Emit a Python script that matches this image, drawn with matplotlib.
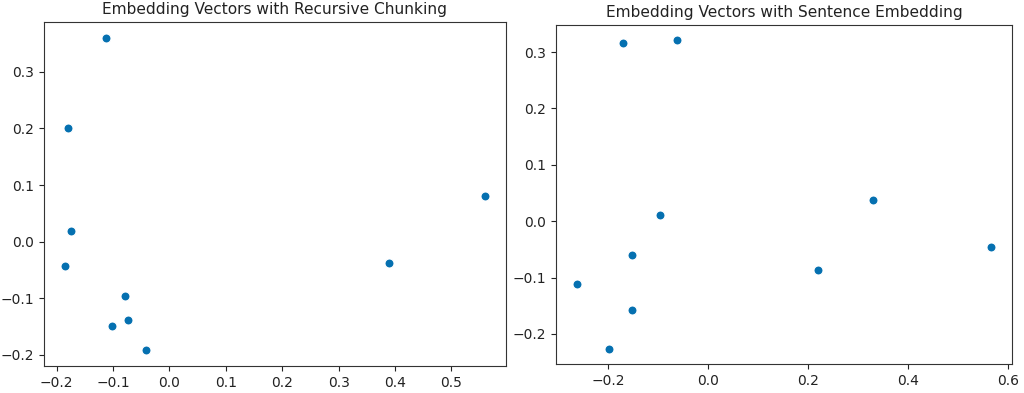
import matplotlib
matplotlib.use("Agg")
import matplotlib.pyplot as plt

# Recursive chunking embedding (2D projection)
rc_x = [-0.1126, -0.1805, -0.1740, -0.1852, -0.0795, -0.0730, -0.1025, -0.0417, 0.3895, 0.5596]
rc_y = [0.3606, 0.2012, 0.0182, -0.0441, -0.0970, -0.1380, -0.1494, -0.1924, -0.0376, 0.0806]

# Sentence embedding (2D projection)
se_x = [-0.1713, -0.0631, -0.0958, -0.1533, -0.2634, -0.1533, -0.1993, 0.2200, 0.3289, 0.5666]
se_y = [0.3160, 0.3207, 0.0102, -0.0601, -0.1109, -0.1575, -0.2260, -0.0860, 0.0373, -0.0453]

titles = ["Embedding Vectors with Recursive Chunking", "Embedding Vectors with Sentence Embedding"]

color = "#0570b0"

fig = plt.figure(figsize=(10.24, 3.93), dpi=100)
ax1 = fig.add_axes([44/1024, 1-366/393, 462/1024, 344/393])
ax2 = fig.add_axes([556/1024, 1-364/393, 456/1024, 339/393])

for ax, xs, ys, t in [(ax1, rc_x, rc_y, titles[0]), (ax2, se_x, se_y, titles[1])]:
    ax.scatter(xs, ys, s=42, c=color, edgecolors="white", linewidths=0.75)
    ax.set_title(t, fontsize=11.1, color="#222222")
    ax.tick_params(labelsize=10, colors="#222222")
    for sp in ax.spines.values():
        sp.set_color("#333333")

ax1.set_xticks([-0.2, -0.1, 0.0, 0.1, 0.2, 0.3, 0.4, 0.5])
ax1.set_yticks([-0.2, -0.1, 0.0, 0.1, 0.2, 0.3])
ax2.set_xticks([-0.2, 0.0, 0.2, 0.4, 0.6])
ax2.set_yticks([-0.2, -0.1, 0.0, 0.1, 0.2, 0.3])

fig.savefig("out.png", dpi=100)
